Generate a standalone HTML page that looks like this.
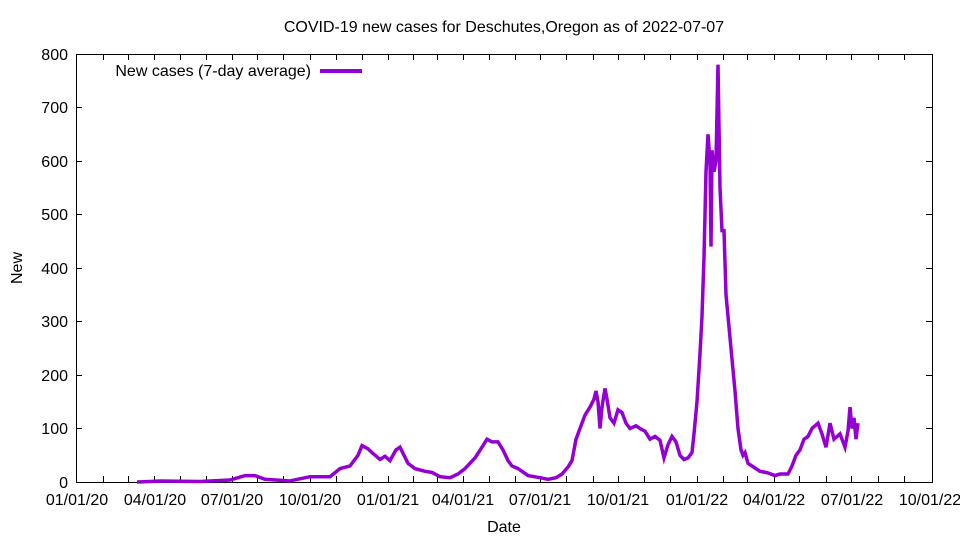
<!DOCTYPE html><html><head><style>body{margin:0;background:#fff}svg{display:block;font-family:"Liberation Sans",sans-serif}</style></head><body>
<svg width="960" height="540" xmlns="http://www.w3.org/2000/svg">
<rect width="960" height="540" fill="#fff"/>
<text x="504" y="32" font-size="16" text-anchor="middle">COVID-19 new cases for Deschutes,Oregon as of 2022-07-07</text>
<g stroke="#000" stroke-width="1">
<rect x="76.5" y="54.5" width="856" height="428" fill="none"/>
<path d="M76 428.5h6M76 375.5h6M76 321.5h6M76 268.5h6M76 214.5h6M76 161.5h6M76 107.5h6M932 428.5h-6M932 375.5h-6M932 321.5h-6M932 268.5h-6M932 214.5h-6M932 161.5h-6M932 107.5h-6"/>
<path d="M103.5 482v-6M128.5 482v-6M154.5 482v-6M180.5 482v-6M206.5 482v-6M232.5 482v-6M257.5 482v-6M283.5 482v-6M310.5 482v-6M336.5 482v-6M362.5 482v-6M388.5 482v-6M413.5 482v-6M437.5 482v-6M463.5 482v-6M489.5 482v-6M515.5 482v-6M540.5 482v-6M566.5 482v-6M593.5 482v-6M618.5 482v-6M644.5 482v-6M670.5 482v-6M697.5 482v-6M723.5 482v-6M747.5 482v-6M774.5 482v-6M799.5 482v-6M826.5 482v-6M851.5 482v-6M878.5 482v-6M904.5 482v-6
M103.5 54v6M128.5 54v6M154.5 54v6M180.5 54v6M206.5 54v6M232.5 54v6M257.5 54v6M283.5 54v6M310.5 54v6M336.5 54v6M362.5 54v6M388.5 54v6M413.5 54v6M437.5 54v6M463.5 54v6M489.5 54v6M515.5 54v6M540.5 54v6M566.5 54v6M593.5 54v6M618.5 54v6M644.5 54v6M670.5 54v6M697.5 54v6M723.5 54v6M747.5 54v6M774.5 54v6M799.5 54v6M826.5 54v6M851.5 54v6M878.5 54v6M904.5 54v6"/>
</g>
<g font-size="16" text-anchor="end">
<text x="68" y="488">0</text><text x="68" y="434">100</text><text x="68" y="381">200</text><text x="68" y="327">300</text><text x="68" y="274">400</text><text x="68" y="220">500</text><text x="68" y="167">600</text><text x="68" y="113">700</text><text x="68" y="60">800</text>
</g>
<g font-size="16" text-anchor="middle">
<text x="77" y="505">01/01/20</text><text x="155" y="505">04/01/20</text><text x="232" y="505">07/01/20</text><text x="310" y="505">10/01/20</text><text x="388" y="505">01/01/21</text><text x="463" y="505">04/01/21</text><text x="540" y="505">07/01/21</text><text x="618" y="505">10/01/21</text><text x="697" y="505">01/01/22</text><text x="774" y="505">04/01/22</text><text x="852" y="505">07/01/22</text><text x="930" y="505">10/01/22</text>
<text x="504" y="532">Date</text>
<text transform="translate(22 268) rotate(-90)">New</text>
</g>
<text x="311" y="76" font-size="16" text-anchor="end">New cases (7-day average)</text>
<line x1="320" y1="71" x2="362" y2="71" stroke="#9400d3" stroke-width="4"/>
<polyline fill="none" stroke="#9400d3" stroke-width="3.5" stroke-linejoin="miter" points="137,482 150,481.5 160,481 200,481.5 230,480 245,475.6 255,475.6 265,479.3 290,481 300,478.8 310,476.7 330,476.7 340,468.6 350,466 358,455.3 362,445.6 368,448.8 372,452.6 380,459.5 385,456.3 390,460.6 396,449.9 400,447.2 404,455.3 408,463.3 415,468.6 425,471.3 432,472.4 440,476.7 450,477.7 458,474 465,468.6 475,457.9 482,447.2 487,439.2 492,441.9 498,441.9 503,449.9 508,460.6 512,466 518,468.6 522,471.3 528,475.6 540,477.7 548,479.3 556,477.7 562,474 568,467 572,460.6 576,439.2 580,428.5 585,415.1 590,407.1 594,399.1 596,391 598,401.8 600,428.5 602,407.1 605,388.4 607,399.1 610,417.8 614,423.2 618,409.8 622,412.5 626,423.2 630,428.5 636,425.8 640,428.5 645,431.2 650,439.2 655,436.5 660,440.3 664,457.9 668,444.6 672,436.5 676,441.9 680,455.3 684,459.5 688,457.9 692,452.6 694,433.9 697,401.8 700,353.6 702,316.2 704,257.3 706,171.7 708,134.3 710,161 711,246.6 712,150.3 714,171.7 716,161 718,64.7 720,187.8 722,230.6 724,230.6 726,294.8 729,326.9 732,358.9 735,391 738,428.5 741,449.9 743,455.3 745,452.6 748,463.3 752,466 760,471.3 768,472.9 775,475.6 780,474 788,474 792,466 796,455.3 800,449.9 804,439.2 808,436.5 812,428.5 818,423.2 822,433.9 826,447.2 830,423.2 834,439.2 840,433.9 845,447.2 848,431.2 850,407.1 852,428.5 854,417.8 856,439.2 858,423.2"/>
</svg>
</body></html>
